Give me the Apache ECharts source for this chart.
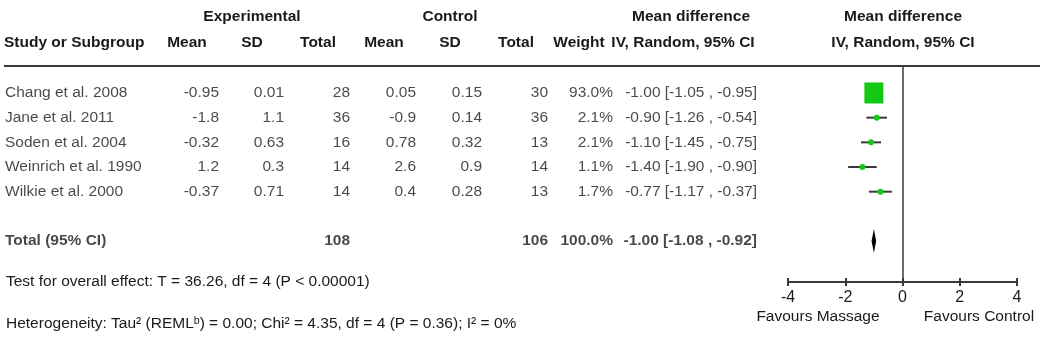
<!DOCTYPE html>
<html>
<head>
<meta charset="utf-8">
<script src="https://cdn.jsdelivr.net/npm/echarts@6/dist/echarts.min.js"></script>
<style>
html,body{margin:0;padding:0;background:#fff}
#main{width:1040px;height:358px}
</style>
</head>
<body>
<div id="main"></div>
<script>
// studies (rows 0..4), pooled row is 6
var studies = ['Chang et al. 2008','Jane et al. 2011','Soden et al. 2004','Weinrich et al. 1990','Wilkie et al. 2000'];
var expMean = ['-0.95','-1.8','-0.32','1.2','-0.37'];
var expSD = ['0.01','1.1','0.63','0.3','0.71'];
var expTotal = [28,36,16,14,14];
var ctlMean = ['0.05','-0.9','0.78','2.6','0.4'];
var ctlSD = ['0.15','0.14','0.32','0.9','0.28'];
var ctlTotal = [30,36,13,14,13];
var weight = [93.0,2.1,2.1,1.1,1.7];
var md = [-1.00,-0.90,-1.10,-1.40,-0.77];
var lower = [-1.05,-1.26,-1.45,-1.90,-1.17];
var upper = [-0.95,-0.54,-0.75,-0.90,-0.37];
var rows = [0,1,2,3,4];
var totalRow = 6;
var totalLabel = 'Total (95% CI)';
var totalExp = 108, totalCtl = 106, totalWeight = 100.0;
var pooledMd = -1.00, pooledLower = -1.08, pooledUpper = -0.92;
var xMin = -4, xMax = 4, xStep = 2;
var overallText = 'Test for overall effect: T = 36.26, df = 4 (P < 0.00001)';
var hetText = 'Heterogeneity: Tau\u00b2 (REML\u1d47) = 0.00; Chi\u00b2 = 4.35, df = 4 (P = 0.36); I\u00b2 = 0%';

var FONT = '"Liberation Sans", Arial, sans-serif';
var FS = 15.5;
var TXT = '#1a1a1a';
var LINE = '#3a3a3a';
var GREEN = '#14c814';

function ciText(m,l,u){
	return m.toFixed(2)+' ['+l.toFixed(2)+' , '+u.toFixed(2)+']';
}

var chart = echarts.init(document.getElementById('main'));

// table columns: x = anchor pixel in the table grid
var cols = [
	{x:5, align:'left', vals:studies, total:totalLabel},
	{x:219, align:'right', vals:expMean, total:''},
	{x:284, align:'right', vals:expSD, total:''},
	{x:350, align:'right', vals:expTotal, total:totalExp},
	{x:416, align:'right', vals:ctlMean, total:''},
	{x:482, align:'right', vals:ctlSD, total:''},
	{x:548, align:'right', vals:ctlTotal, total:totalCtl},
	{x:613, align:'right', vals:weight.map(function(w){return w.toFixed(1)+'%';}), total:totalWeight.toFixed(1)+'%'},
	{x:757, align:'right', vals:md.map(function(m,i){return ciText(m,lower[i],upper[i]);}), total:ciText(pooledMd,pooledLower,pooledUpper)}
];

var tableSeries = [];
cols.forEach(function(c){
	var data = rows.map(function(r,i){return [c.x, r, String(c.vals[i])];});
	if(c.total!==''){
		data.push({value:[c.x,totalRow,String(c.total)], label:{fontWeight:'bold'}});
	}
	tableSeries.push({
		type:'scatter',
		xAxisIndex:2, yAxisIndex:1,
		symbolSize:0,
		silent:true,
		data:data,
		label:{
			show:true, position:'inside', align:c.align, verticalAlign:'middle',
			fontFamily:FONT, fontSize:FS, color:TXT,
			formatter:function(p){return p.value[2];}
		}
	});
});

var header = [
	{t:'Experimental', x:252, y:17, a:'center'},
	{t:'Control', x:450, y:17, a:'center'},
	{t:'Mean difference', x:691, y:17, a:'center'},
	{t:'Mean difference', x:903, y:17, a:'center'},
	{t:'Study or Subgroup', x:4, y:43, a:'left'},
	{t:'Mean', x:187, y:43, a:'center'},
	{t:'SD', x:252, y:43, a:'center'},
	{t:'Total', x:318, y:43, a:'center'},
	{t:'Mean', x:384, y:43, a:'center'},
	{t:'SD', x:450, y:43, a:'center'},
	{t:'Total', x:516, y:43, a:'center'},
	{t:'Weight', x:579, y:43, a:'center'},
	{t:'IV, Random, 95% CI', x:683, y:43, a:'center'},
	{t:'IV, Random, 95% CI', x:903, y:43, a:'center'}
];
var graphics = header.map(function(h){
	return {type:'text', x:h.x, y:h.y, silent:true,
		style:{text:h.t, fill:TXT, font:'bold '+FS+'px '+FONT, textAlign:h.a, textVerticalAlign:'middle'}};
});
graphics.push({type:'line', silent:true, shape:{x1:4,y1:66,x2:1040,y2:66}, style:{stroke:LINE, lineWidth:2}});
graphics.push({type:'text', x:6, y:282, silent:true, style:{text:overallText, fill:TXT, font:FS+'px '+FONT, textVerticalAlign:'middle'}});
graphics.push({type:'text', x:6, y:324, silent:true, style:{text:hetText, fill:TXT, font:FS+'px '+FONT, textVerticalAlign:'middle'}});
graphics.push({type:'text', x:818, y:317, silent:true, style:{text:'Favours Massage', fill:TXT, font:FS+'px '+FONT, textAlign:'center', textVerticalAlign:'middle'}});
graphics.push({type:'text', x:979, y:317, silent:true, style:{text:'Favours Control', fill:TXT, font:FS+'px '+FONT, textAlign:'center', textVerticalAlign:'middle'}});

var yRange = {min:-1.094, max:7.66};

var option = {
	animation:false,
	textStyle:{fontFamily:FONT},
	grid:[
		{left:788, width:229, top:66, height:216},
		{left:0, width:1040, top:66, height:216}
	],
	xAxis:[
		{gridIndex:0, type:'value', min:xMin, max:xMax, interval:xStep, position:'bottom',
			axisLine:{show:true, onZero:false, lineStyle:{color:LINE, width:2}},
			axisTick:{show:true, length:4, lineStyle:{color:LINE, width:2}},
			axisLabel:{show:true, color:TXT, fontSize:16, fontFamily:FONT, margin:8},
			splitLine:{show:false}},
		{gridIndex:0, type:'value', min:xMin, max:xMax, interval:xStep, position:'bottom',
			axisLine:{show:false, onZero:false},
			axisTick:{show:true, inside:true, length:4, lineStyle:{color:LINE, width:2}},
			axisLabel:{show:false}, splitLine:{show:false}},
		{gridIndex:1, type:'value', min:0, max:1040, show:false}
	],
	yAxis:[
		{gridIndex:0, type:'value', inverse:true, min:yRange.min, max:yRange.max, show:false},
		{gridIndex:1, type:'value', inverse:true, min:yRange.min, max:yRange.max, show:false}
	],
	series:[
		{
			type:'custom', name:'ci', xAxisIndex:0, yAxisIndex:0, silent:true,
			data:rows.map(function(r,i){return [lower[i], upper[i], r];}),
			renderItem:function(params, api){
				var a = api.coord([api.value(0), api.value(2)]);
				var b = api.coord([api.value(1), api.value(2)]);
				return {type:'line', shape:{x1:a[0], y1:a[1], x2:b[0], y2:b[1]}, style:{stroke:LINE, lineWidth:2}};
			},
			markLine:{
				silent:true, symbol:'none', label:{show:false},
				lineStyle:{color:LINE, width:1.5, type:'solid'},
				data:[{xAxis:0}]
			}
		},
		{
			type:'scatter', name:'md', xAxisIndex:0, yAxisIndex:0, silent:true,
			data:rows.map(function(r,i){
				var big = weight[i] > 50;
				return {value:[md[i], r], symbol: big ? 'rect' : 'circle', symbolSize: big ? [19,21] : 6};
			}),
			itemStyle:{color:GREEN, opacity:1}
		},
		{
			type:'custom', name:'pooled', xAxisIndex:0, yAxisIndex:0, silent:true,
			data:[[pooledLower, pooledMd, pooledUpper, totalRow]],
			renderItem:function(params, api){
				var y = api.value(3);
				var l = api.coord([api.value(0), y]);
				var m = api.coord([api.value(1), y]);
				var u = api.coord([api.value(2), y]);
				return {type:'polygon', shape:{points:[[l[0],l[1]],[m[0],m[1]-12],[u[0],u[1]],[m[0],m[1]+12]]}, style:{fill:'#000'}};
			}
		}
	].concat(tableSeries),
	graphic:graphics
};
chart.setOption(option);
</script>
</body>
</html>
